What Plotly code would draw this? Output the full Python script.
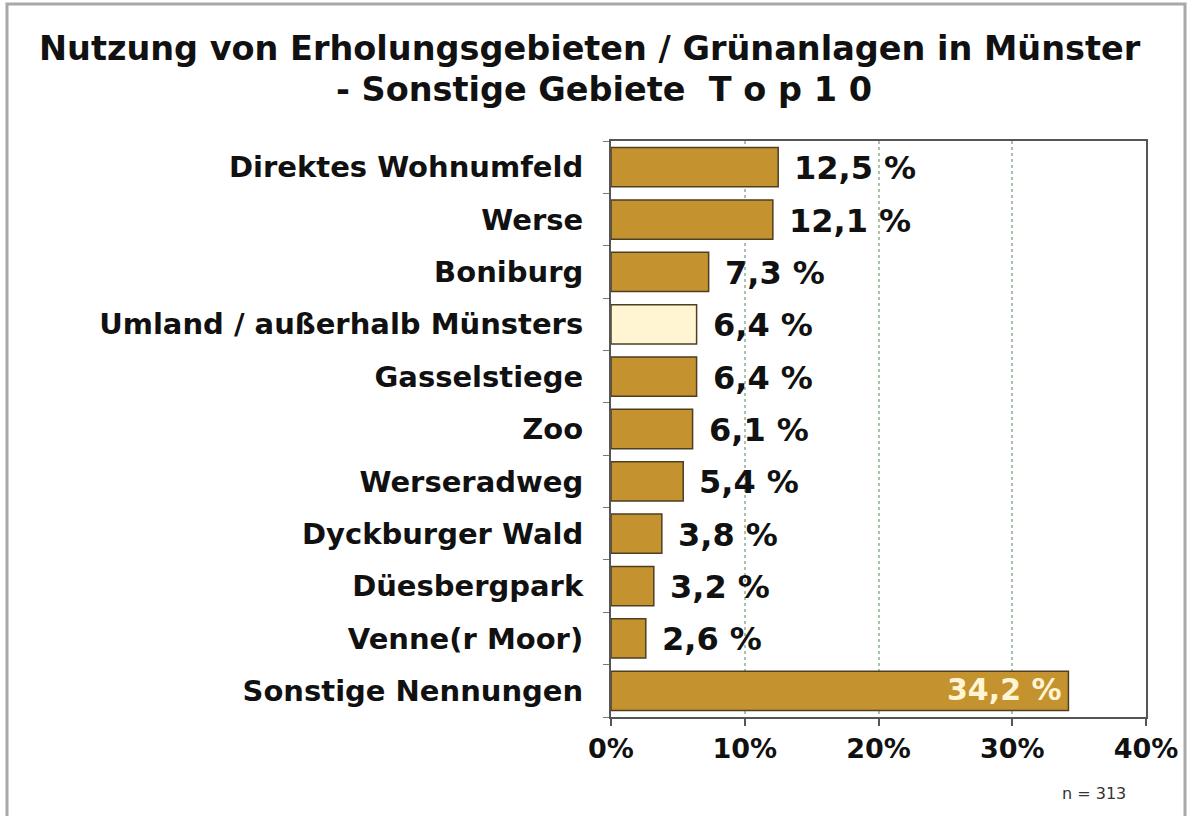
import plotly.graph_objects as go

categories = ["Direktes Wohnumfeld", "Werse", "Boniburg", "Umland / außerhalb Münsters",
              "Gasselstiege", "Zoo", "Werseradweg", "Dyckburger Wald", "Düesbergpark",
              "Venne(r Moor)", "Sonstige Nennungen"]
values = [12.5, 12.1, 7.3, 6.4, 6.4, 6.1, 5.4, 3.8, 3.2, 2.6, 34.2]
value_labels = ["12,5 %", "12,1 %", "7,3 %", "6,4 %", "6,4 %", "6,1 %", "5,4 %",
                "3,8 %", "3,2 %", "2,6 %", "34,2 %"]
highlight = "Umland / außerhalb Münsters"
x_ticks = [0, 10, 20, 30, 40]
x_tick_labels = ["0%", "10%", "20%", "30%", "40%"]
title_line1 = "Nutzung von Erholungsgebieten / Grünanlagen in Münster"
title_line2 = "- Sonstige Gebiete\u00a0\u00a0T o p 1 0"
n_note = "n = 313"

GOLD = "#C4922F"
PALE = "#FFF5D2"
FONT = "DejaVu Sans"

colors = [PALE if c == highlight else GOLD for c in categories]

fig = go.Figure()
fig.add_trace(go.Bar(
    x=values, y=categories, orientation="h",
    marker=dict(color=colors, line=dict(color="#4E3E22", width=1.5)),
    hoverinfo="skip",
))

W, H = 1192, 816
L, R, T, B = 611, 46, 141, 99
pw, ph = W - L - R, H - T - B

def px_x(x):
    return (x - L) / pw

def px_y(y):
    return 1 - (y - T) / ph

annotations = []
for c, v, lab in zip(categories, values, value_labels):
    if v > 30:
        annotations.append(dict(x=v, y=c, xref="x", yref="y", text="<b>" + lab + "</b>", showarrow=False,
                                xanchor="right", xshift=-4, yshift=1,
                                font=dict(family=FONT, size=30, color="#FFF5D2")))
    else:
        annotations.append(dict(x=v, y=c, xref="x", yref="y", text="<b>" + lab + "</b>", showarrow=False,
                                xanchor="left", xshift=14, yshift=-1,
                                font=dict(family=FONT, size=32, color="#111111")))

annotations.append(dict(x=px_x(590), y=px_y(48), xref="paper", yref="paper",
                        text="<b>" + title_line1 + "</b>", showarrow=False,
                        xanchor="center", yanchor="middle",
                        font=dict(family=FONT, size=33.5, color="#111111")))
annotations.append(dict(x=px_x(604), y=px_y(89), xref="paper", yref="paper",
                        text="<b>" + title_line2 + "</b>", showarrow=False,
                        xanchor="center", yanchor="middle",
                        font=dict(family=FONT, size=33.5, color="#111111")))
annotations.append(dict(x=px_x(1128), y=px_y(793), xref="paper", yref="paper",
                        text=n_note, showarrow=False, xanchor="right", yanchor="middle",
                        font=dict(family=FONT, size=16, color="#333333")))

fig.update_layout(
    width=W, height=H,
    margin=dict(l=L, r=R, t=T, b=B, autoexpand=False),
    paper_bgcolor="white", plot_bgcolor="white",
    showlegend=False,
    bargap=0.25,
    annotations=annotations,
    shapes=[dict(type="rect", xref="paper", yref="paper",
                 x0=px_x(7), x1=px_x(1185), y0=px_y(4), y1=px_y(830),
                 line=dict(color="#A8A8A8", width=3), layer="below")],
    xaxis=dict(range=[0, 40], tickvals=x_ticks, ticktext=["<b>" + t + "</b>" for t in x_tick_labels],
               showgrid=True, gridcolor="#A9C2A9", griddash="dot", gridwidth=1.5,
               showline=True, linecolor="#555555", linewidth=2, mirror=True,
               ticks="outside", ticklen=7, tickcolor="#555555", tickwidth=1.5,
               tickfont=dict(family=FONT, size=27, color="#111111"),
               zeroline=False, fixedrange=True),
    yaxis=dict(categoryorder="array", categoryarray=categories, autorange="reversed",
               tickvals=categories, ticktext=["<b>" + c + "</b>" for c in categories],
               tickson="boundaries", ticks="outside", ticklen=6, tickcolor="#777777",
               showline=True, linecolor="#555555", linewidth=2, mirror=True,
               showgrid=False, ticklabelstandoff=20,
               tickfont=dict(family=FONT, size=29, color="#111111"), fixedrange=True),
)

fig.write_html("out.html", config={"displayModeBar": False},
               post_script="document.body.style.margin='0';")
